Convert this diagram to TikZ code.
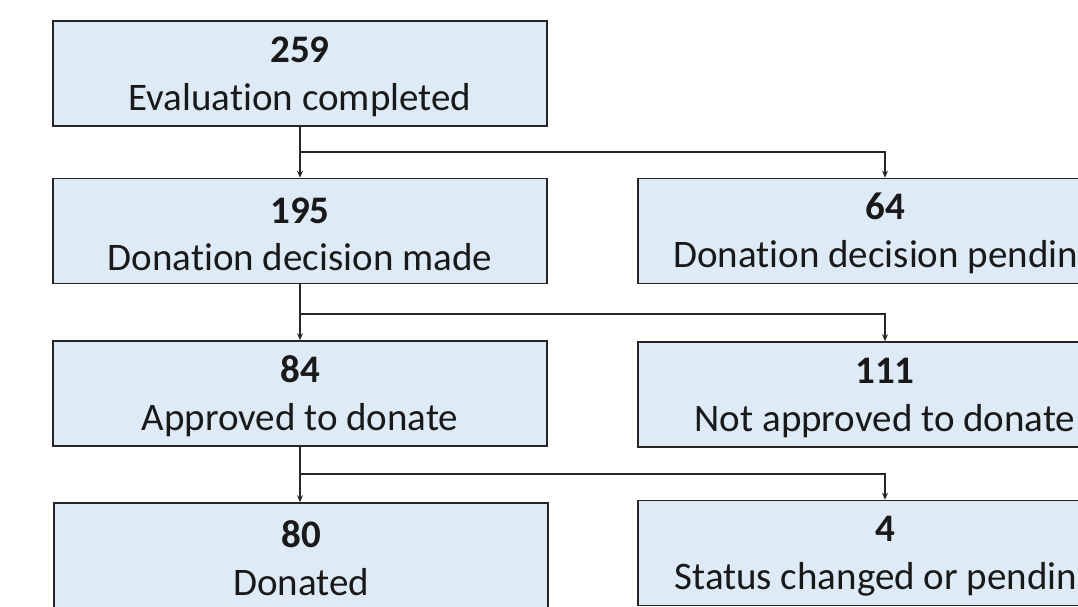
\documentclass[tikz,border=0pt]{standalone}
\usepackage{fontspec}
\setmainfont{Carlito}[Ligatures={NoCommon}, RawFeature={-liga;-clig;-calt;-dlig}]
\usetikzlibrary{arrows.meta}
\definecolor{boxfill}{HTML}{DEEAF6}
\definecolor{boxline}{HTML}{262626}
\newcommand{\topgap}{\rule{0pt}{32pt}}
\tikzset{
  fbox/.style={draw=boxline, line width=1.6pt, fill=boxfill, minimum width=494pt,
    minimum height=105pt, inner sep=0pt, align=center,
    font=\fontsize{39}{47.5}\selectfont, text=black!90},
  conn/.style={draw=boxline, line width=1.3pt, -{Stealth[length=7pt,width=6pt]}}
}
\begin{document}
\begin{tikzpicture}[x=1pt,y=-1pt]
\useasboundingbox (0,0) rectangle (1078,607);
\node[fbox] (b1) at (300,73.5) {\topgap\textbf{259}\\Evaluation completed};
\node[fbox] (b2l) at (300,231) {\topgap\textbf{195}\\Donation decision made};
\node[fbox] (b2r) at (885,231) {\topgap\textbf{64}\\Donation decision pending};
\node[fbox] (b3l) at (300,393.5) {\topgap\textbf{84}\\Approved to donate};
\node[fbox] (b3r) at (885,394.5) {\topgap\textbf{111}\\Not approved to donate};
\node[fbox] (b4l) at (301,555.5) {\topgap\textbf{80}\\Donated};
\node[fbox] (b4r) at (885,553) {\topgap\textbf{4}\\Status changed or pending};
\coordinate (j1) at (300,152);
\coordinate (j2) at (300,314);
\coordinate (j3) at (300,474);
\draw[conn] (b1.south) -- (b2l.north);
\draw[conn] (j1) -| (b2r.north);
\draw[conn] (b2l.south) -- (b3l.north);
\draw[conn] (j2) -| (b3r.north);
\draw[conn] (b3l.south) -- (b3l.south |- b4l.north);
\draw[conn] (j3) -| (b4r.north);
\end{tikzpicture}
\end{document}
